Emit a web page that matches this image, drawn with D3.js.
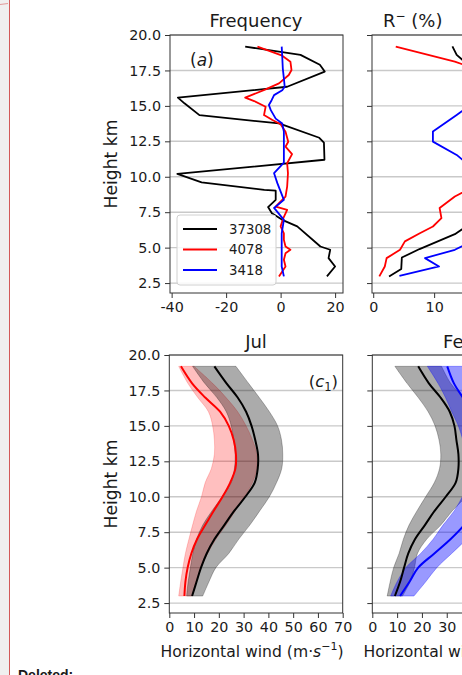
<!DOCTYPE html>
<html><head><meta charset="utf-8">
<script src="https://cdn.jsdelivr.net/npm/d3@7"></script>
<style>
body{margin:0;background:#fff}
svg{display:block}
text{font-family:"DejaVu Sans",sans-serif;fill:#1a1a1a}
</style></head>
<body><svg id="c" width="462" height="675"></svg>
<script>
// ---------------- data ----------------
const yTicks = [2.5, 5, 7.5, 10, 12.5, 15, 17.5, 20];
const freqXTicks = [-40, -20, 0, 20];
const rXTicks = [0, 10, 20];
const windXTicks = [0, 10, 20, 30, 40, 50, 60, 70];
const legendLabels = ["37308", "4078", "3418"];

// panel (a): Frequency [value, height km]
const freq37308 = [[-13,19.18],[7.3,18.6],[14.4,17.9],[16.2,17.42],[2.4,16.35],[-37.7,15.58],[-35.3,15.18],[-29.8,14.35],[-0.6,13.76],[14.2,12.75],[15.9,12.4],[16.1,11.2],[-37.9,10.2],[-29,9.6],[-6,9.08],[-1.8,9.02],[-1.8,8.37],[-4.6,7.86],[-3.2,7.43],[0.6,6.96],[6.1,6.5],[14.6,5.08],[18.2,4.85],[17.6,4.26],[20,3.67],[17,2.97]];
const freq4078 = [[-8.5,19.18],[0.6,18.54],[3.6,18.12],[4.0,17.53],[3.0,17.18],[-0.6,16.59],[-5.5,16.16],[-13,15.58],[-9.7,15.34],[-5.5,14.94],[-6.1,14.35],[-3,14.0],[0,13.7],[1.8,13.18],[2.8,12.47],[1.8,12.12],[4.2,11.6],[2.4,10.95],[2.7,10.25],[2.4,9.3],[1.8,8.6],[-0.6,8.14],[-1.8,7.9],[2.4,7.67],[1.0,7.08],[0,6.5],[1.2,6.0],[1.2,5.55],[1.8,5.08],[3.6,4.85],[1.8,4.6],[1.2,4.14],[1.8,3.67],[0.6,3.32],[-0.6,2.97]];
const freq3418 = [[0.4,19.18],[0.6,18.47],[0.8,17.65],[1.2,16.94],[1.5,16.35],[0.6,16.1],[-2.4,15.76],[-3.3,15.4],[-4.3,15.06],[-3.6,14.7],[-1.8,14.1],[0.6,13.76],[1.2,13.18],[1.2,11.0],[-2.4,10.25],[-1.2,9.55],[1.2,8.37],[-2.4,7.8],[1.2,6.96],[0.4,6.0],[0.4,3.67],[1.2,2.97]];

// panel (b): R- (%) [value, height km]
const r37308 = [[13,19.2],[13.7,18.6],[18,17],[21,14],[21,10],[17,7],[13.4,5.95],[7.6,4.9],[4.7,4.3],[4.6,3.5],[2.6,2.97]];
const r4078 = [[3.7,19.18],[13.4,18.12],[19,17.3],[22,15],[21,11],[16,9.2],[13.4,8.61],[10.9,7.79],[11.2,7.08],[9.8,6.49],[7.65,6.02],[5.2,5.44],[4.4,4.85],[2.2,4.26],[1.9,3.67],[1.0,2.97]];
const r3418 = [[22,19.18],[19,16],[13.7,14.36],[9.8,13.19],[9.8,12.48],[13.7,11.54],[18,10],[19,7],[16,5.4],[13.4,4.85],[8.5,4.26],[10.8,3.67],[4.3,3.0]];

// panels (c): horizontal wind profiles (m/s) at windHeights (km)
const windHeights  = [3,4,5,6,7,8,9,10,11,12,13,14,15,16,17,18,19.2];
const julBlackMean = [9.2,11.0,12.8,15.1,18.2,22.2,26.2,30.7,34.5,35.7,35.8,34.7,33.2,31.0,27.6,23.1,18.2];
const julBlackLo   = [7.0,7.6,8.5,9.5,11.0,13.5,17.2,21.3,25.0,26.3,26.6,26.0,25.0,23.0,19.2,14.3,9.4];
const julBlackHi   = [13.5,16.0,18.8,24.0,28.0,32.5,36.5,40.4,43.3,45.4,45.8,45.3,43.7,40.4,36.3,32.0,26.9];
const julRedMean   = [6.1,6.5,7.4,8.9,11.2,14.5,17.9,21.5,24.6,26.7,26.9,26.0,24.0,20.5,14.5,9.2,4.7];
const julRedLo     = [3.8,4.6,5.5,6.5,7.9,9.4,11.0,13.0,14.5,17.0,18.2,18.2,17.5,15.8,11.5,7.5,3.8];
const julRedHi     = [9.2,10.8,12.8,15.5,18.8,22.9,26.6,30.3,33.6,35.3,35.3,33.6,31.0,27.6,22.9,17.5,10.0];
const febBlackMean = [9.1,11.2,12.8,14.5,17.2,21.2,25.1,29.6,33.6,34.7,34.7,33.9,33.1,31.2,27.5,22.8,18.5];
const febBlackLo   = [6.0,7.2,8.6,10.8,12.5,14.8,18.0,21.5,25.0,27.1,27.6,26.9,25.3,22.5,18.5,14.0,9.1];
const febBlackHi   = [12.2,15.2,17.0,18.2,21.9,27.6,32.2,37.7,42.2,42.3,41.8,40.9,40.9,39.9,36.5,31.6,27.9];
const febBlueMean  = [11.2,15.0,18.5,25.0,31.5,37.0,41.0,44.0,45.0,46.0,46.0,45.0,43.0,40.0,36.5,32.9,30.2];
const febBlueLo    = [7.4,10.0,13.5,19.5,24.5,28.5,33.0,36.3,39.0,39.0,38.0,36.5,34.7,32.0,29.5,26.5,22.2];
const febBlueHi    = [16.8,21.5,26.0,32.0,38.0,44.0,48.0,51.0,52.0,53.0,53.0,52.0,50.0,47.0,43.0,40.0,38.0];

// ---------------- drawing ----------------
const svg = d3.select("#c");
const W = 462;
const TICK_FS = 14.3;

// left margin strip of the page
svg.append("rect").attr("x",0).attr("y",0).attr("width",9).attr("height",675).attr("fill","#f0f0f0");
svg.append("line").attr("x1",9.5).attr("x2",9.5).attr("y1",0).attr("y2",675).attr("stroke","#d25a5a").attr("stroke-width",1);
svg.append("line").attr("x1",0).attr("x2",8).attr("y1",4.5).attr("y2",3.5).attr("stroke","#e29a9a").attr("stroke-width",1);
svg.append("text").attr("x",18).attr("y",680)
  .style("font-family","'Liberation Sans',Arial,sans-serif").attr("font-weight","bold").attr("font-size",14).attr("fill","#000").text("Deleted:");

const defs = svg.append("defs");
let clipId = 0;

function panel(opt){
  const g = svg.append("g");
  const x = d3.scaleLinear().domain(opt.xDomain).range([opt.left, opt.right]);
  const y = d3.scaleLinear().domain([1.8, 20]).range([opt.bottom, opt.top]);
  const id = "clip"+(clipId++);
  defs.append("clipPath").attr("id",id).append("rect")
    .attr("x",opt.left).attr("y",opt.top).attr("width",opt.right-opt.left).attr("height",opt.bottom-opt.top);
  g.append("g").selectAll("line").data(yTicks).join("line")
    .attr("x1",opt.left).attr("x2",opt.right).attr("y1",d=>y(d)).attr("y2",d=>y(d))
    .attr("stroke","#c9c9c9").attr("stroke-width",1.4);
  const plot = g.append("g").attr("clip-path",`url(#${id})`);
  opt.draw(plot, x, y);
  g.append("rect").attr("x",opt.left).attr("y",opt.top).attr("width",opt.right-opt.left).attr("height",opt.bottom-opt.top)
    .attr("fill","none").attr("stroke","#333").attr("stroke-width",1);
  const ya = d3.axisLeft(y).tickValues(yTicks).tickSize(5).tickPadding(4).tickSizeOuter(0)
    .tickFormat(opt.yLabels ? d3.format(".1f") : "");
  const yg = g.append("g").attr("transform",`translate(${opt.left},0)`).call(ya);
  // only ticks that fall inside the visible page
  const xa = d3.axisBottom(x).tickValues(opt.xTicks.filter(v=>x(v) < W + 5)).tickSize(5).tickPadding(4).tickSizeOuter(0)
    .tickFormat(d=>String(d));
  const xg = g.append("g").attr("transform",`translate(0,${opt.bottom})`).call(xa);
  [yg,xg].forEach(a=>{
    a.select(".domain").remove();
    a.selectAll(".tick line").attr("stroke","#333");
    a.selectAll(".tick text").attr("font-size",TICK_FS).attr("font-family","DejaVu Sans").attr("fill","#1a1a1a");
  });
  if(opt.yLabels){
    svg.append("text").attr("transform",`translate(117,${(opt.top+opt.bottom)/2}) rotate(-90)`)
      .attr("text-anchor","middle").attr("font-size",17.2).text("Height km");
  }
  return {x,y};
}

const lineGen = (x,y)=>d3.line().x(d=>x(d[0])).y(d=>y(d[1]));

// panel (a)
panel({left:170,right:343,top:35,bottom:293,xDomain:[-40.6,22.9],xTicks:freqXTicks,yLabels:true,
  draw:(p,x,y)=>{
    [[freq37308,"#000"],[freq4078,"#ff0000"],[freq3418,"#0000ff"]].forEach(([d,c])=>{
      p.append("path").datum(d).attr("d",lineGen(x,y)).attr("fill","none").attr("stroke",c).attr("stroke-width",1.8).attr("stroke-linejoin","round");
    });
  }});
svg.append("text").attr("x",256).attr("y",27).attr("text-anchor","middle").attr("font-size",18).text("Frequency");
svg.append("text").attr("x",190).attr("y",66).attr("font-size",17).html('(<tspan font-style="italic">a</tspan>)');
// legend
const lg = svg.append("g");
lg.append("rect").attr("x",177).attr("y",215).attr("width",99).attr("height",70).attr("rx",3)
  .attr("fill","#fff").attr("fill-opacity",0.85).attr("stroke","#d0d0d0");
const legColors = ["#000","#ff0000","#0000ff"];
legendLabels.forEach((l,i)=>{
  const yy = 229 + i*20.5;
  lg.append("line").attr("x1",183).attr("x2",217).attr("y1",yy).attr("y2",yy).attr("stroke",legColors[i]).attr("stroke-width",2);
  lg.append("text").attr("x",229).attr("y",yy).attr("dy","0.36em").attr("font-size",13.3).text(l);
});

// panel (b)
panel({left:372,right:545,top:35,bottom:293,xDomain:[-0.2,28.2],xTicks:rXTicks,yLabels:false,
  draw:(p,x,y)=>{
    [[r37308,"#000"],[r4078,"#ff0000"],[r3418,"#0000ff"]].forEach(([d,c])=>{
      p.append("path").datum(d).attr("d",lineGen(x,y)).attr("fill","none").attr("stroke",c).attr("stroke-width",1.8).attr("stroke-linejoin","round");
    });
  }});
svg.append("text").attr("x",383).attr("y",27).attr("font-size",18)
  .html('R<tspan dy="-7" font-size="12">−</tspan><tspan dy="7"> (%)</tspan>');

// wind panels
function band(p,x,y,lo,hi,color,op){
  const a = d3.area().x0((d,i)=>x(lo[i])).x1((d,i)=>x(hi[i])).y(d=>y(d)).curve(d3.curveCatmullRom);
  p.append("path").datum(windHeights).attr("d",a).attr("fill",color).attr("fill-opacity",op)
    .attr("stroke",color).attr("stroke-opacity",op).attr("stroke-width",0.8);
}
function meanLine(p,x,y,vals,color){
  const l = d3.line().x((d,i)=>x(vals[i])).y(d=>y(d)).curve(d3.curveCatmullRom);
  p.append("path").datum(windHeights).attr("d",l).attr("fill","none").attr("stroke",color).attr("stroke-width",2);
}
panel({left:169.3,right:342.7,top:355,bottom:613,xDomain:[0,70],xTicks:windXTicks,yLabels:true,
  draw:(p,x,y)=>{
    band(p,x,y,julRedLo,julRedHi,"#ff0000",0.25);
    band(p,x,y,julBlackLo,julBlackHi,"#000",0.33);
    meanLine(p,x,y,julBlackMean,"#000");
    meanLine(p,x,y,julRedMean,"#ff0000");
  }});
svg.append("text").attr("x",256).attr("y",348).attr("text-anchor","middle").attr("font-size",18).text("Jul");
svg.append("text").attr("x",338).attr("y",387).attr("text-anchor","end").attr("font-size",16.5)
  .html('(<tspan font-style="italic">c</tspan><tspan dy="4" font-size="11.5">1</tspan><tspan dy="-4">)</tspan>');

panel({left:372.3,right:546,top:355,bottom:613,xDomain:[0,70],xTicks:windXTicks,yLabels:false,
  draw:(p,x,y)=>{
    band(p,x,y,febBlackLo,febBlackHi,"#000",0.33);
    band(p,x,y,febBlueLo,febBlueHi,"#0000ff",0.4);
    meanLine(p,x,y,febBlackMean,"#000");
    meanLine(p,x,y,febBlueMean,"#0000ff");
  }});
svg.append("text").attr("x",459).attr("y",348).attr("text-anchor","middle").attr("font-size",18).text("Feb");

const xl = '<tspan>Horizontal wind (m·</tspan><tspan font-style="italic">s</tspan><tspan dy="-7" font-size="11">−1</tspan><tspan dy="7">)</tspan>';
svg.append("text").attr("x",252).attr("y",657).attr("text-anchor","middle").attr("font-size",15.6).html(xl);
svg.append("text").attr("x",455).attr("y",657).attr("text-anchor","middle").attr("font-size",15.6).html(xl);
</script></body></html>
